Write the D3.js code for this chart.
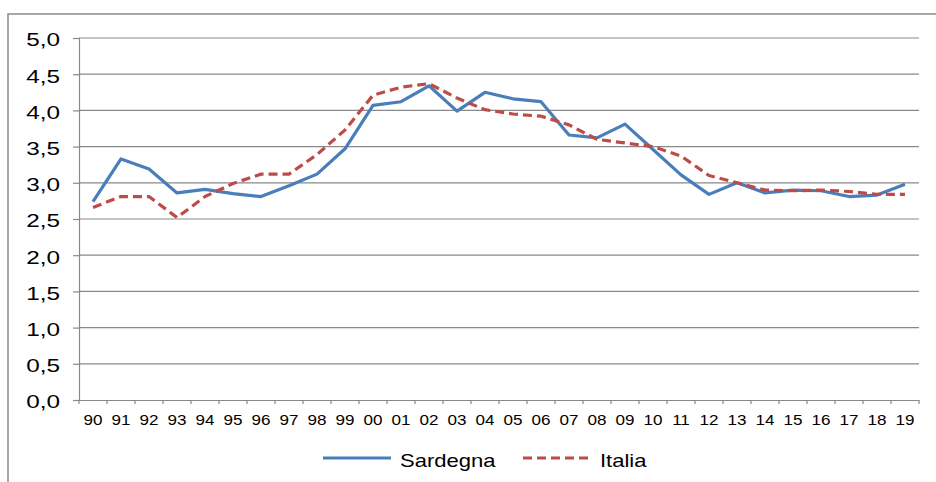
<!DOCTYPE html>
<html>
<head>
  <meta charset="utf-8">
  <script src="https://d3js.org/d3.v7.min.js"></script>
  <style>
      body { margin: 0; background-color: #fff; }
      text { font-family: "Liberation Sans", Arial, sans-serif; fill: #000; }
  </style>
</head>
<body>
<script>
var width = 936;
var height = 482;

// anni (etichette asse x)
const years = ["90","91","92","93","94","95","96","97","98","99",
               "00","01","02","03","04","05","06","07","08","09",
               "10","11","12","13","14","15","16","17","18","19"];

const sardegna = [2.74, 3.33, 3.19, 2.86, 2.91, 2.85, 2.81, 2.96, 3.12, 3.47,
                  4.07, 4.12, 4.34, 3.99, 4.25, 4.16, 4.12, 3.66, 3.62, 3.81,
                  3.46, 3.11, 2.84, 3.00, 2.86, 2.90, 2.89, 2.81, 2.83, 2.98];

const italia = [2.66, 2.81, 2.81, 2.52, 2.81, 2.99, 3.12, 3.12, 3.39, 3.73,
                4.21, 4.32, 4.37, 4.17, 4.01, 3.95, 3.92, 3.80, 3.60, 3.55,
                3.50, 3.37, 3.10, 3.00, 2.90, 2.89, 2.90, 2.88, 2.84, 2.84];

const yTicks = [0, 0.5, 1, 1.5, 2, 2.5, 3, 3.5, 4, 4.5, 5];

const series = [
  { name: "Sardegna", values: sardegna, color: "#4a7ebb", dash: null },
  { name: "Italia", values: italia, color: "#be4b48", dash: "9,5" }
];

var plot = { left: 79, right: 919, top: 38, bottom: 400 };

var svg = d3.select("body")
    .append("svg")
    .attr("width", width)
    .attr("height", height);

// cornice esterna (solo lato sinistro e superiore visibili)
svg.append("rect")
    .attr("x", 8).attr("y", 14)
    .attr("width", 960).attr("height", 520)
    .attr("fill", "none")
    .attr("stroke", "#8a8a8a")
    .attr("stroke-width", 1.5);

var x = d3.scaleBand()
    .domain(years)
    .range([plot.left, plot.right]);

var y = d3.scaleLinear()
    .domain([0, 5])
    .range([plot.bottom, plot.top]);

// griglia
svg.append("g")
    .selectAll("line")
    .data(yTicks.filter(d => d > 0))
    .enter()
    .append("line")
    .attr("x1", plot.left).attr("x2", plot.right)
    .attr("y1", d => y(d)).attr("y2", d => y(d))
    .attr("stroke", "#898989")
    .attr("stroke-width", 1.2);

// asse y
var yAxis = svg.append("g")
    .attr("transform", `translate(${plot.left},0)`)
    .call(d3.axisLeft(y).tickValues(yTicks).tickSize(6).tickPadding(0)
        .tickFormat(d => d3.format(".1f")(d).replace(".", ",")));
yAxis.select(".domain").attr("stroke", "#898989").attr("stroke-width", 1.2);
yAxis.selectAll(".tick line").attr("stroke", "#898989").attr("stroke-width", 1.2);
yAxis.selectAll(".tick text")
    .attr("x", -19 / 1.28)
    .attr("dy", "0.36em")
    .attr("transform", "translate(0,1) scale(1.28,1)")
    .style("font-size", "19px")
    .style("font-family", "'Liberation Sans', Arial, sans-serif")
    .attr("fill", "#000");

// asse x
var xAxis = svg.append("g")
    .attr("transform", `translate(0,${plot.bottom})`)
    .call(d3.axisBottom(x).tickSize(0).tickPadding(0));
xAxis.select(".domain").attr("stroke", "#898989").attr("stroke-width", 1.2);
xAxis.selectAll(".tick text")
    .attr("y", 25)
    .attr("dy", 0)
    .attr("transform", "scale(1.22,1)")
    .style("font-size", "14px")
    .style("font-family", "'Liberation Sans', Arial, sans-serif")
    .attr("fill", "#000");

// tacche tra le categorie
var bounds = years.map(d => x(d)).concat([plot.right]);
svg.append("g")
    .selectAll("line")
    .data(bounds)
    .enter()
    .append("line")
    .attr("x1", d => d).attr("x2", d => d)
    .attr("y1", plot.bottom).attr("y2", plot.bottom + 4)
    .attr("stroke", "#898989")
    .attr("stroke-width", 1.2);

// linee
var line = d3.line()
    .x((d, i) => x(years[i]) + x.bandwidth() / 2)
    .y(d => y(d));

series.forEach(function(s) {
  svg.append("path")
      .datum(s.values)
      .attr("d", line)
      .attr("fill", "none")
      .attr("stroke", s.color)
      .attr("stroke-width", 3.2)
      .attr("stroke-linejoin", "round")
      .attr("stroke-dasharray", s.dash);
});

// legenda
var legendPos = [323, 523];
series.forEach(function(s, i) {
  var lx = legendPos[i];
  svg.append("line")
      .attr("x1", lx).attr("x2", lx + 68)
      .attr("y1", 458).attr("y2", 458)
      .attr("stroke", s.color)
      .attr("stroke-width", 3.2)
      .attr("stroke-dasharray", s.dash);
  svg.append("text")
      .attr("transform", `translate(${lx + 77},467) scale(1.19,1)`)
      .style("font-size", "18.5px")
      .text(s.name);
});
</script>
</body>
</html>
